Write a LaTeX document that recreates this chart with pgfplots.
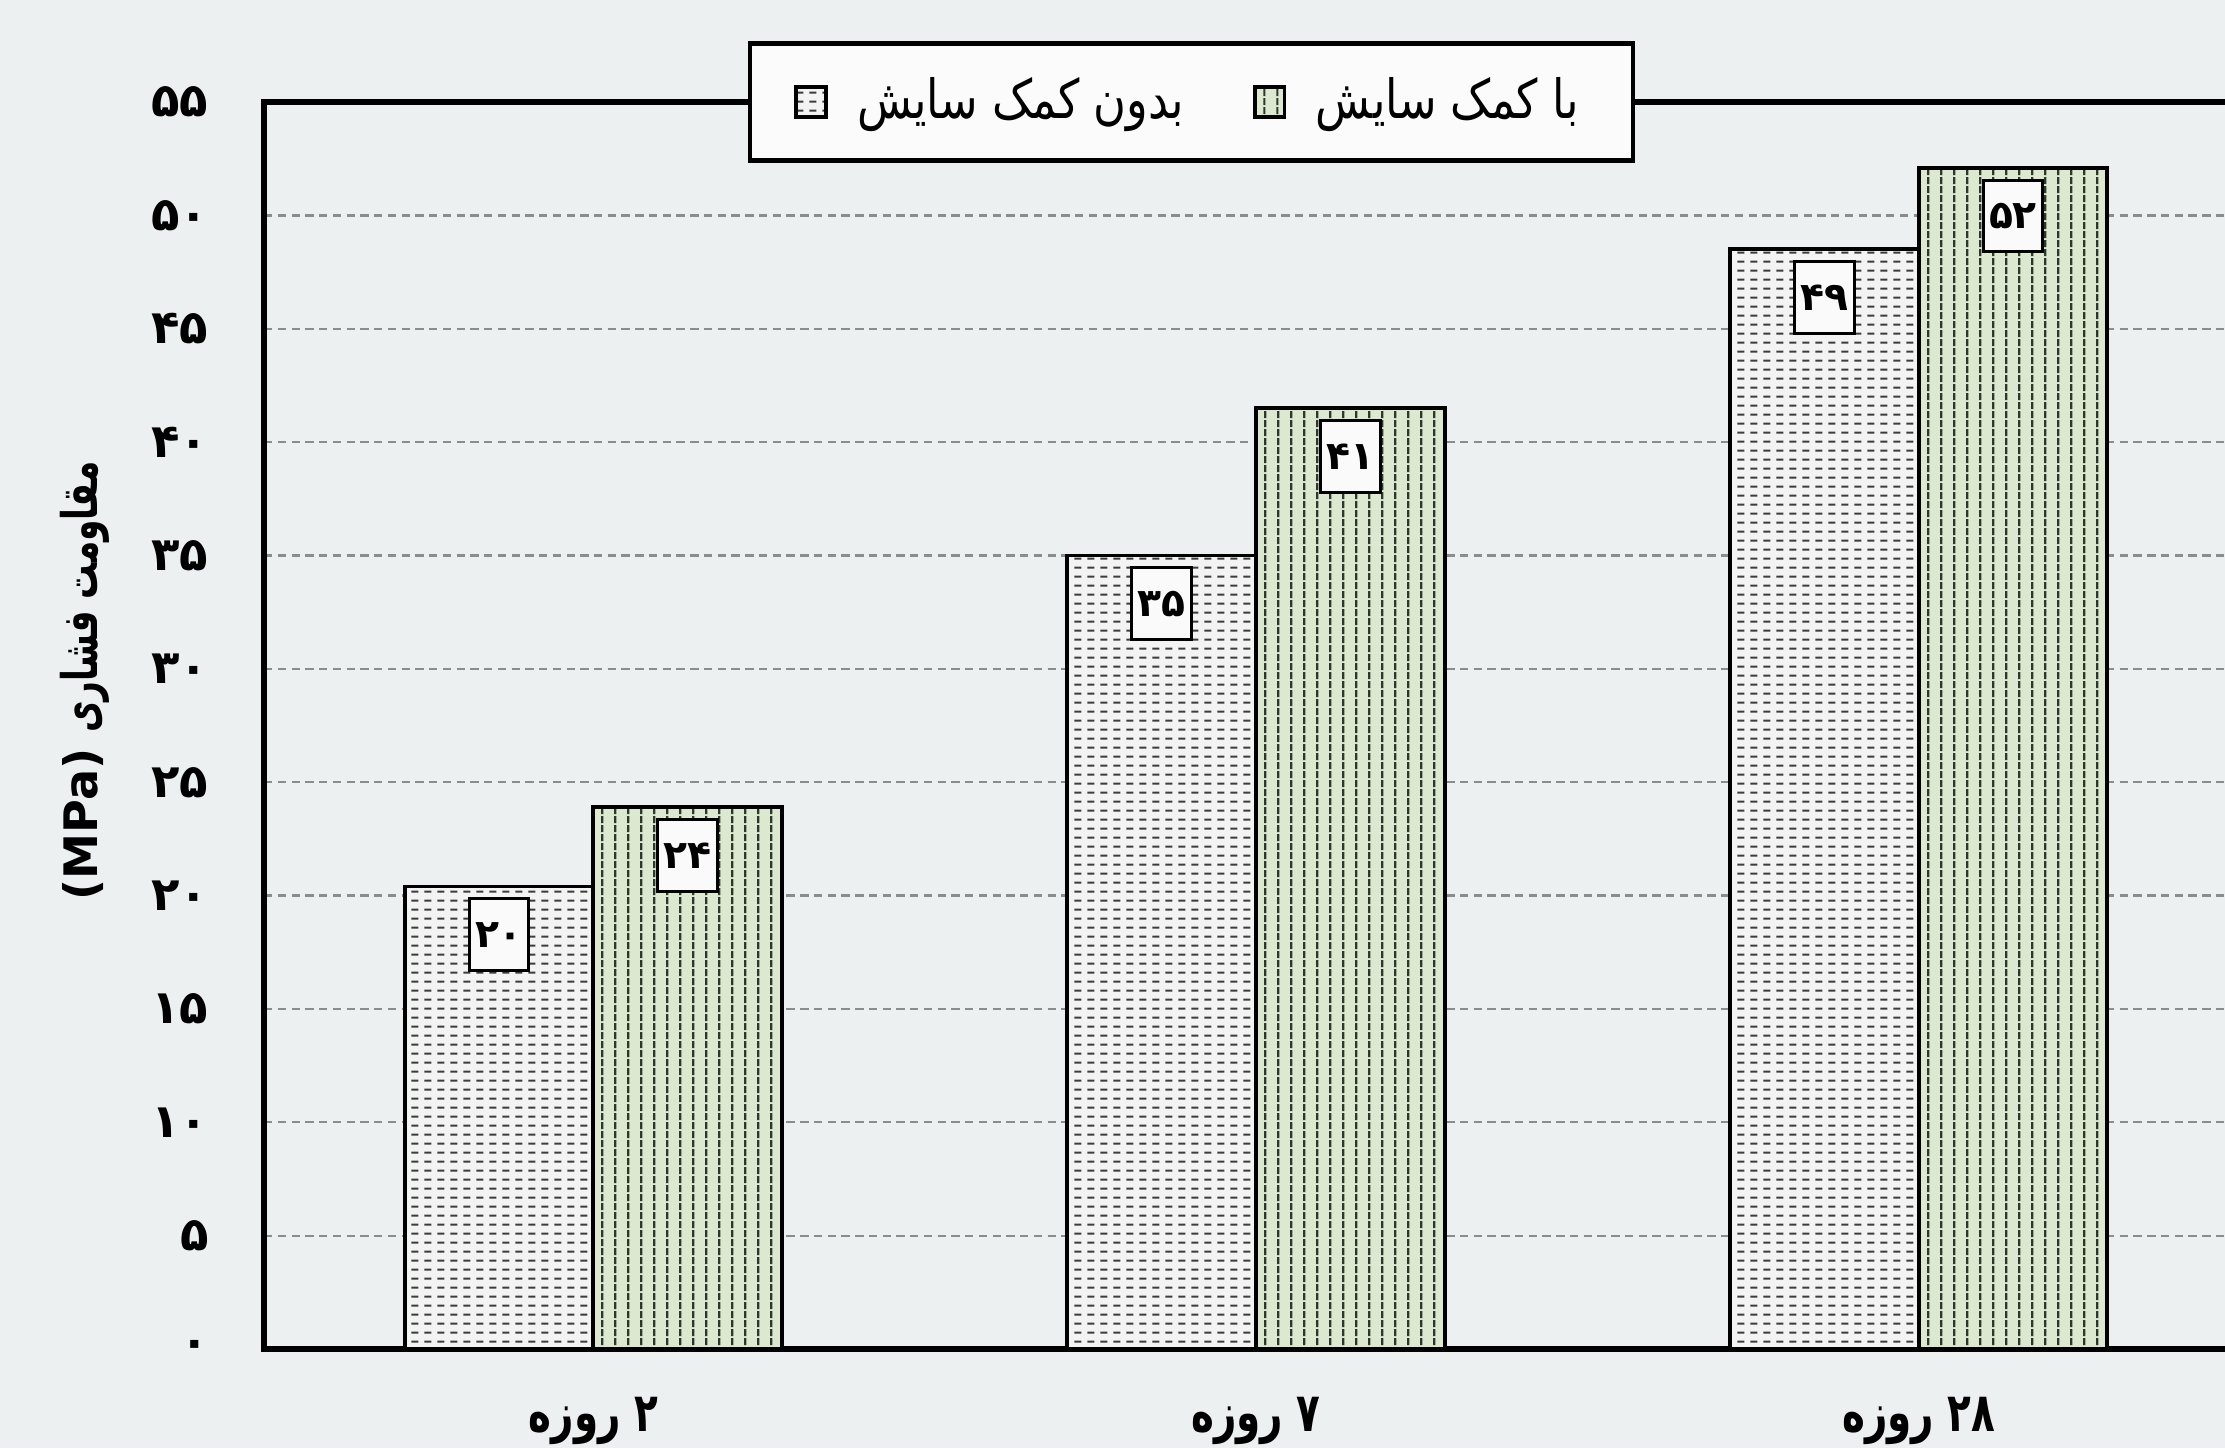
\documentclass[border=0pt]{standalone}
\usepackage{fontspec}
\usepackage{pgfplots}
\pgfplotsset{compat=1.18}
\usetikzlibrary{patterns.meta,backgrounds}
\TeXXeTstate=1
\setmainfont{DejaVu Sans}
\newfontfamily\fa[Script=Arabic]{DejaVu Sans}
\newfontfamily\falab[Script=Arabic, FakeStretch=0.72]{DejaVu Sans}
\newfontfamily\faleg[Script=Arabic, FakeStretch=0.83]{DejaVu Sans}
\newfontfamily\faylab[Script=Arabic, FakeStretch=0.7]{DejaVu Sans}
\definecolor{bgc}{RGB}{237,240,240}
\definecolor{gfill}{RGB}{221,232,208}
\definecolor{lfill}{RGB}{243,243,243}
\definecolor{gridc}{RGB}{140,140,140}
\definecolor{dashc}{RGB}{60,60,60}
\definecolor{gdashc}{RGB}{45,55,45}
\tikzdeclarepattern{name=hdash, type=uncolored,
  bottom left={(0pt,0pt)}, top right={(2.7pt,1.9pt)}, tile size={(2.7pt,1.9pt)},
  code={\draw[line width=0.45pt] (0.3pt,0.95pt) -- (1.8pt,0.95pt);}}
\tikzdeclarepattern{name=vdash, type=uncolored,
  bottom left={(0pt,0pt)}, top right={(2.7pt,1.9pt)}, tile size={(2.7pt,1.9pt)},
  code={\draw[line width=0.45pt] (1.35pt,0.2pt) -- (1.35pt,1.7pt);}}
\begin{document}
\begin{tikzpicture}
\begin{axis}[
  scale only axis, width=404.5pt, height=254pt,
  xmin=-0.497, xmax=2.5, ymin=0, ymax=55,
  axis line style={line width=1.15pt},
  ytick={0,5,...,55},
  yticklabels={۰,۵,۱۰,۱۵,۲۰,۲۵,۳۰,۳۵,۴۰,۴۵,۵۰,۵۵},
  xtick={0,1,2},
  xticklabels={{\beginR ۲ روزه\endR},{\beginR ۷ روزه\endR},{\beginR ۲۸ روزه\endR}},
  major tick length=0pt,
  ymajorgrids,
  grid style={gridc, line width=0.45pt, dash pattern=on 1.7pt off 1.1pt},
  yticklabel style={font=\fa\bfseries\fontsize{9.5}{9.5}\selectfont, xshift=-7.8pt},
  xticklabel style={font=\falab\bfseries\fontsize{11}{11}\selectfont, anchor=center, yshift=-14.6pt},
  ylabel={{\bfseries\fontsize{9.4}{9.4}\selectfont (MPa)} {\faylab\bfseries\beginR مقاومت فشاری\endR}},
  ylabel style={at={(axis description cs:-0.0905,0.536)}, anchor=center, font=\fontsize{10}{10}\selectfont},
  ybar, bar width=0.285,
  nodes near coords,
  point meta=explicit symbolic,
  nodes near coords style={anchor=north, yshift=-2.2pt, draw=black, line width=0.6pt,
     fill=white!96!gray, inner sep=0pt, minimum width=12.2pt, minimum height=14.6pt,
     font=\fa\bfseries\fontsize{8}{8}\selectfont},
  legend columns=2,
  legend style={at={(0.467,1.0)}, anchor=center, draw=black, line width=0.9pt,
     fill=white!97!gray, inner xsep=9pt, inner ysep=5pt,
     font=\faleg\fontsize{11}{11}\selectfont,
     /tikz/every odd column/.append style={column sep=4pt},
     /tikz/every even column/.append style={column sep=12pt}},
  legend image code/.code={\draw[#1, line width=0.8pt] (0pt,-3pt) rectangle (6pt,3pt);},
]
\addplot[bar shift=-0.1425, draw=black, line width=0.8pt, fill=lfill,
  postaction={pattern=hdash, pattern color=dashc}]
  coordinates {(0,20.4) [۲۰] (1,35.0) [۳۵] (2,48.5) [۴۹]};
\addlegendentry{\beginR بدون کمک سایش\endR}
\addplot[bar shift=0.1425, draw=black, line width=0.8pt, fill=gfill,
  postaction={pattern=vdash, pattern color=gdashc}]
  coordinates {(0,23.9) [۲۴] (1,41.5) [۴۱] (2,52.1) [۵۲]};
\addlegendentry{\beginR با کمک سایش\endR}
\end{axis}
\begin{scope}[on background layer]
\fill[bgc] ([xshift=-53.8pt,yshift=-20.2pt]current axis.south west) rectangle ([xshift=-5.06pt,yshift=20.8pt]current axis.north east);
\end{scope}
\pgfresetboundingbox
\useasboundingbox ([xshift=-53.8pt,yshift=-20.2pt]current axis.south west) rectangle ([xshift=-5.06pt,yshift=20.8pt]current axis.north east);
\end{tikzpicture}
\end{document}
